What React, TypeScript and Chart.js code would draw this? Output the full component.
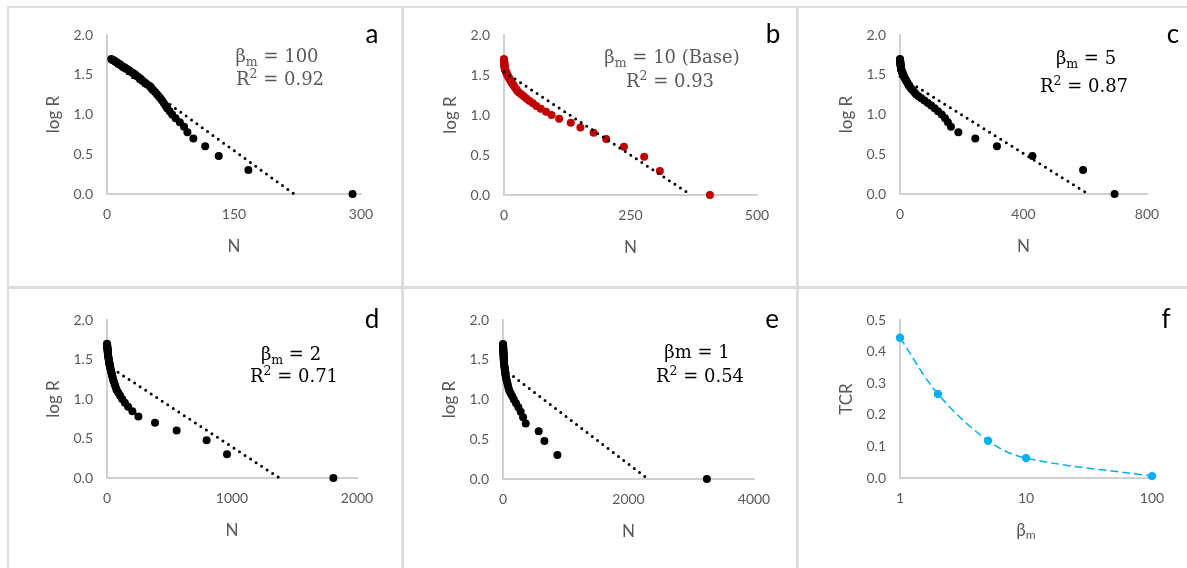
import React, { useEffect, useRef } from 'react';
import { Chart, registerables } from 'chart.js';

Chart.register(...registerables);
Chart.defaults.font.family = 'Lato, "Open Sans", sans-serif';

// log R for ranks R = 50 ... 1 (shared y values of panels a–e)
const LOG_R = [
  1.699, 1.690, 1.681, 1.672, 1.663, 1.653, 1.643, 1.633, 1.623, 1.613,
  1.602, 1.591, 1.580, 1.568, 1.556, 1.544, 1.531, 1.519, 1.505, 1.491,
  1.477, 1.462, 1.447, 1.431, 1.415, 1.398, 1.380, 1.362, 1.342, 1.322,
  1.301, 1.279, 1.255, 1.230, 1.204, 1.176, 1.146, 1.114, 1.079, 1.041,
  1.000, 0.954, 0.903, 0.845, 0.778, 0.699, 0.602, 0.477, 0.301, 0.000,
];

// N values (same order as LOG_R)
const N_A = [
  5, 6, 8, 9, 10, 12, 13, 15, 16, 17,
  19, 21, 22, 24, 26, 27, 29, 31, 33, 34,
  36, 38, 40, 41, 43, 45, 47, 50, 52, 53,
  55, 57, 59, 61, 63, 65, 67, 69, 71, 74,
  77, 81, 86, 91, 95, 102, 116, 132, 167, 290,
];
const N_B = [
  0, 0.1, 0.2, 0.3, 0.4, 0.5, 0.6, 0.7, 0.8, 0.9,
  1.1, 1.2, 1.4, 2.1, 2.9, 3.7, 4.5, 5.3, 6.3, 7.4,
  8.6, 10.0, 11.3, 12.7, 14.1, 15.8, 17.8, 19.8, 22.0, 24.2,
  26.5, 29.9, 34.6, 39.6, 44.7, 50.5, 57.1, 64.0, 72.7, 83,
  94, 109, 132, 151, 177, 202, 237, 277, 308, 407,
];
const N_C = [
  0, 0.2, 0.4, 0.6, 0.8, 1.0, 1.3, 1.6, 1.9, 2.2,
  2.6, 3.0, 3.4, 3.8, 4.4, 5.8, 7.2, 8.5, 10.0, 11.6,
  13.1, 14.7, 16.9, 19.2, 21.5, 24.0, 26.6, 29.2, 32.8, 37.2,
  41.8, 46.6, 51.9, 60, 69, 79, 90, 101, 112, 123,
  135, 146, 155, 165, 189, 244, 314, 429, 593, 695,
];
const N_D = [
  0, 0.5, 1.1, 1.6, 2.2, 2.8, 3.4, 4.0, 4.6, 5.2,
  5.9, 6.5, 7.2, 7.9, 8.6, 9.4, 10.4, 11.8, 13.4, 15.0,
  16.5, 18.2, 19.9, 21.7, 23.4, 25.8, 28.6, 31.3, 34.4, 37.5,
  40.7, 44.1, 47.7, 52, 58, 64, 70, 77, 91, 105,
  121, 143, 169, 203, 251, 384, 557, 797, 960, 1811,
];
const N_E = [
  0, 0.6, 1.2, 1.8, 2.3, 3.0, 3.6, 4.3, 4.9, 5.6,
  6.3, 7.0, 7.7, 8.5, 9.3, 10.1, 10.9, 11.7, 12.6, 13.5,
  14.4, 15.4, 17.5, 20, 22.7, 25.5, 28.4, 31.3, 34.6, 37.8,
  41.2, 46, 54, 62, 70, 78.5, 88, 100, 122, 147,
  173, 207, 245, 282, 320, 362, 569, 660, 867, 3249,
];

// linear trendlines (start / end)
const TREND_A_X = [5, 221];
const TREND_A_Y = [1.66, 0];
const TREND_B_X = [0, 370];
const TREND_B_Y = [1.54, 0];
const TREND_C_X = [0, 609];
const TREND_C_Y = [1.48, 0];
const TREND_D_X = [0, 1380];
const TREND_D_Y = [1.43, 0];
const TREND_E_X = [0, 2313];
const TREND_E_Y = [1.39, 0];

// panel f
const BETA_M = [1, 2, 5, 10, 100];
const TCR = [0.444, 0.266, 0.118, 0.063, 0.006];

const Y_TICKS_LOGR = [0, 0.5, 1, 1.5, 2];
const Y_TICKS_TCR = [0, 0.1, 0.2, 0.3, 0.4, 0.5];
const X_TICKS_F = [1, 10, 100];

const TEXT_GRAY = '#595959';
const AXIS_GRAY = '#d0d0d0';
const DIVIDER = '#dcdcdc';

type Seg = { t: string; k?: 'sub' | 'sup' };
type MathLine = { segs: Seg[]; cx: number; by: number };

type Spec = {
  key: string;
  x: number; y: number; w: number; h: number;
  plotL: number; plotR: number; plotT: number; plotB: number;
  xLog?: boolean;
  xMin: number; xMax: number; xStep?: number;
  yTicks: number[];
  xTitle: string | null; yTitle: string;
  datasets: any[];
  letter: string; letterX: number; letterY: number;
  notes: MathLine[]; noteColor: string;
};

function rankSeries(n: number[], color: string) {
  return {
    data: n.map((v, i) => ({ x: v, y: LOG_R[i] })),
    showLine: false,
    pointRadius: 4,
    pointHoverRadius: 4,
    pointBackgroundColor: color,
    pointBorderColor: color,
    pointBorderWidth: 0,
    clip: false,
    order: 1,
  };
}

function trend(xs: number[], ys: number[]) {
  return {
    data: xs.map((v, i) => ({ x: v, y: ys[i] })),
    showLine: true,
    borderColor: '#000',
    borderWidth: 3,
    borderDash: [0, 6.6],
    borderCapStyle: 'round',
    pointRadius: 0,
    clip: false,
    order: 0,
  };
}

const sub = (main: string, tail: string): Seg[] => [{ t: main }, { t: 'm', k: 'sub' }, { t: tail }];
const r2 = (v: string): Seg[] => [{ t: 'R' }, { t: '2', k: 'sup' }, { t: ' = ' + v }];

const SPECS: Spec[] = [
  {
    key: 'a', x: 9, y: 8, w: 392, h: 278, plotL: 107, plotR: 361, plotT: 35, plotB: 194,
    xMin: 0, xMax: 300, xStep: 150, yTicks: Y_TICKS_LOGR, xTitle: 'N', yTitle: 'log R',
    datasets: [trend(TREND_A_X, TREND_A_Y), rankSeries(N_A, '#000')],
    letter: 'a', letterX: 372, letterY: 43,
    notes: [{ segs: sub('β', ' = 100'), cx: 277, by: 62 }, { segs: r2('0.92'), cx: 280, by: 85 }],
    noteColor: TEXT_GRAY,
  },
  {
    key: 'b', x: 404, y: 8, w: 392, h: 278, plotL: 504, plotR: 757, plotT: 35, plotB: 195,
    xMin: 0, xMax: 500, xStep: 250, yTicks: Y_TICKS_LOGR, xTitle: 'N', yTitle: 'log R',
    datasets: [trend(TREND_B_X, TREND_B_Y), rankSeries(N_B, '#c00000')],
    letter: 'b', letterX: 773, letterY: 43,
    notes: [{ segs: sub('β', ' = 10 (Base)'), cx: 672, by: 63 }, { segs: r2('0.93'), cx: 670, by: 87 }],
    noteColor: TEXT_GRAY,
  },
  {
    key: 'c', x: 799, y: 8, w: 388, h: 278, plotL: 900, plotR: 1147, plotT: 35, plotB: 194,
    xMin: 0, xMax: 800, xStep: 400, yTicks: Y_TICKS_LOGR, xTitle: 'N', yTitle: 'log R',
    datasets: [trend(TREND_C_X, TREND_C_Y), rankSeries(N_C, '#000')],
    letter: 'c', letterX: 1173, letterY: 43,
    notes: [{ segs: sub('β', ' = 5'), cx: 1086, by: 64 }, { segs: r2('0.87'), cx: 1084, by: 92 }],
    noteColor: '#000',
  },
  {
    key: 'd', x: 9, y: 289, w: 392, h: 279, plotL: 107, plotR: 357, plotT: 320, plotB: 478,
    xMin: 0, xMax: 2000, xStep: 1000, yTicks: Y_TICKS_LOGR, xTitle: 'N', yTitle: 'log R',
    datasets: [trend(TREND_D_X, TREND_D_Y), rankSeries(N_D, '#000')],
    letter: 'd', letterX: 372, letterY: 328,
    notes: [{ segs: sub('β', ' = 2'), cx: 291, by: 360 }, { segs: r2('0.71'), cx: 294, by: 382 }],
    noteColor: '#000',
  },
  {
    key: 'e', x: 404, y: 289, w: 392, h: 279, plotL: 503, plotR: 754, plotT: 320, plotB: 479,
    xMin: 0, xMax: 4000, xStep: 2000, yTicks: Y_TICKS_LOGR, xTitle: 'N', yTitle: 'log R',
    datasets: [trend(TREND_E_X, TREND_E_Y), rankSeries(N_E, '#000')],
    letter: 'e', letterX: 772, letterY: 328,
    notes: [{ segs: [{ t: 'βm = 1' }], cx: 697, by: 358 }, { segs: r2('0.54'), cx: 700, by: 382 }],
    noteColor: '#000',
  },
  {
    key: 'f', x: 799, y: 289, w: 388, h: 279, plotL: 900, plotR: 1152, plotT: 320, plotB: 478,
    xLog: true, xMin: 1, xMax: 100, yTicks: Y_TICKS_TCR, xTitle: null, yTitle: 'TCR',
    datasets: [{
      data: BETA_M.map((b, i) => ({ x: b, y: TCR[i] })),
      showLine: true,
      borderColor: '#00b0f0',
      borderWidth: 1.5,
      borderDash: [8, 4],
      tension: 0.35,
      pointRadius: 4.2,
      pointHoverRadius: 4.2,
      pointBackgroundColor: '#00b0f0',
      pointBorderColor: '#00b0f0',
      pointBorderWidth: 0,
      clip: false,
    }],
    letter: 'f', letterX: 1166, letterY: 328,
    notes: [],
    noteColor: '#000',
  },
];

function drawMath(ctx: CanvasRenderingContext2D, line: MathLine, ox: number, oy: number, color: string) {
  const fam = '"DejaVu Serif", "Liberation Serif", serif';
  const parts = line.segs.map((s) => {
    const size = s.k ? 12.5 : 18;
    ctx.font = `${size}px ${fam}`;
    return { ...s, size, w: ctx.measureText(s.t).width };
  });
  const total = parts.reduce((a, p) => a + p.w, 0);
  let x = line.cx - ox - total / 2;
  ctx.fillStyle = color;
  ctx.textAlign = 'left';
  ctx.textBaseline = 'alphabetic';
  for (const p of parts) {
    ctx.font = `${p.size}px ${fam}`;
    const dy = p.k === 'sub' ? 4 : p.k === 'sup' ? -7 : 0;
    ctx.fillText(p.t, x, line.by - oy + dy);
    x += p.w;
  }
}

const TITLE_SIZE = 17;
const TITLE_LH = TITLE_SIZE * 1.2;

function buildConfig(s: Spec): any {
  const yAxisW = s.plotL - s.x;
  const padRight = s.x + s.w - s.plotR;
  const padTop = s.plotT - s.y;
  const xAxisH = s.y + s.h - s.plotB;
  const tickFont = { size: 14, family: 'Lato' };
  const titleFont = { size: TITLE_SIZE, family: 'Lato' };

  const annot = {
    id: 'annot_' + s.key,
    afterDraw(chart: any) {
      const ctx: CanvasRenderingContext2D = chart.ctx;
      ctx.save();
      for (const n of s.notes) drawMath(ctx, n, s.x, s.y, s.noteColor);
      ctx.font = '26px Lato';
      ctx.fillStyle = '#000';
      ctx.textAlign = 'center';
      ctx.textBaseline = 'alphabetic';
      ctx.fillText(s.letter, s.letterX - s.x, s.letterY - s.y);
      if (s.xTitle === null) {
        // β with subscript m
        ctx.fillStyle = TEXT_GRAY;
        ctx.font = '17px Lato';
        const wb = ctx.measureText('β').width;
        ctx.font = '12px Lato';
        const wm = ctx.measureText('m').width;
        const cx = (s.plotL + s.plotR) / 2 - s.x;
        const by = s.plotB + 58 - s.y;
        const x0 = cx - (wb + wm) / 2;
        ctx.textAlign = 'left';
        ctx.font = '17px Lato';
        ctx.fillText('β', x0, by);
        ctx.font = '12px Lato';
        ctx.fillText('m', x0 + wb, by + 3);
      }
      ctx.restore();
    },
  };

  const xScale: any = {
    type: s.xLog ? 'logarithmic' : 'linear',
    min: s.xMin,
    max: s.xMax,
    grid: { display: false, drawTicks: false },
    border: { display: true, color: AXIS_GRAY, width: 2 },
    ticks: {
      color: TEXT_GRAY,
      font: tickFont,
      padding: 12,
      maxRotation: 0,
      autoSkip: false,
      callback: (v: any) => String(v),
    },
    title: s.xTitle
      ? { display: true, text: s.xTitle, color: TEXT_GRAY, font: titleFont, padding: { top: 0, bottom: xAxisH - 52.5 - TITLE_LH / 2 } }
      : { display: false },
    afterFit: (sc: any) => { sc.height = xAxisH; },
  };
  if (s.xLog) {
    xScale.afterBuildTicks = (axis: any) => { axis.ticks = X_TICKS_F.map((v) => ({ value: v })); };
  } else {
    xScale.ticks.stepSize = s.xStep;
  }

  const yTicks = s.yTicks;
  const yScale: any = {
    type: 'linear',
    min: yTicks[0],
    max: yTicks[yTicks.length - 1],
    grid: { display: false, drawTicks: false },
    border: { display: true, color: AXIS_GRAY, width: 2 },
    afterBuildTicks: (axis: any) => { axis.ticks = yTicks.map((v) => ({ value: v })); },
    ticks: {
      color: TEXT_GRAY,
      font: tickFont,
      padding: 14,
      callback: (v: any) => Number(v).toFixed(1),
    },
    title: { display: true, text: s.yTitle, color: TEXT_GRAY, font: titleFont, padding: { top: yAxisW - 53.5 - TITLE_LH / 2, bottom: 0 } },
    afterFit: (sc: any) => { sc.width = yAxisW; },
  };

  return {
    type: 'scatter',
    data: { datasets: s.datasets },
    options: {
      animation: false,
      responsive: false,
      devicePixelRatio: 1,
      events: [],
      layout: { padding: { left: 0, top: padTop, right: padRight, bottom: 0 } },
      plugins: { legend: { display: false }, tooltip: { enabled: false } },
      scales: { x: xScale, y: yScale },
    },
    plugins: [annot],
  };
}

function Panel({ spec }: { spec: Spec }) {
  const ref = useRef<HTMLCanvasElement | null>(null);
  useEffect(() => {
    if (!ref.current) return;
    const chart = new Chart(ref.current, buildConfig(spec));
    return () => chart.destroy();
  }, [spec]);
  return (
    <canvas
      ref={ref}
      width={spec.w}
      height={spec.h}
      style={{ position: 'absolute', left: spec.x, top: spec.y, width: spec.w, height: spec.h }}
    />
  );
}

export default function App() {
  const line = (l: number, t: number, w: number, h: number) => (
    <div style={{ position: 'absolute', left: l, top: t, width: w, height: h, background: DIVIDER }} />
  );
  return (
    <div style={{ position: 'fixed', left: 0, top: 0, width: 1187, height: 568, background: '#fff', overflow: 'hidden' }}>
      {line(7, 6, 1180, 2)}
      {line(7, 6, 2, 562)}
      {line(7, 286, 1180, 3)}
      {line(401, 6, 3, 562)}
      {line(796, 6, 3, 562)}
      {SPECS.map((s) => <Panel key={s.key} spec={s} />)}
    </div>
  );
}
